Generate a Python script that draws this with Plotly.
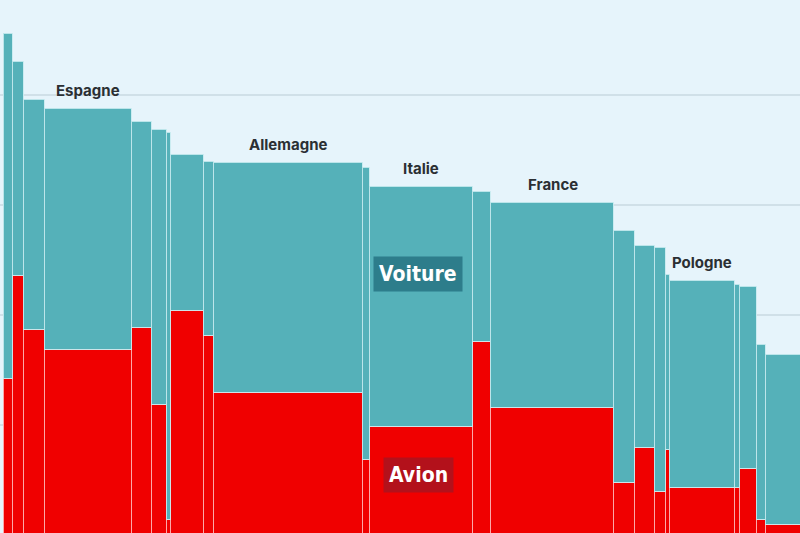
import plotly.graph_objects as go

# largeur de chaque colonne (population relative), hauteur totale et part avion
pays = ["", "", "", "Espagne", "", "", "", "", "", "Allemagne", "", "Italie",
        "", "France", "", "", "", "", "Pologne", "", "", "", ""]
largeur = [9, 10.5, 21, 87.5, 19.5, 15.5, 4, 32.5, 10, 149, 7, 103,
           18.5, 123, 21, 20, 11, 3.5, 65, 5, 17, 9.5, 40]
total = [4.55, 4.30, 3.95, 3.87, 3.75, 3.68, 3.65, 3.45, 3.39, 3.38, 3.34, 3.16,
         3.12, 3.02, 2.76, 2.63, 2.61, 2.36, 2.31, 2.27, 2.25, 1.73, 1.64]
avion = [1.42, 2.35, 1.86, 1.68, 1.88, 1.18, 0.14, 2.04, 1.81, 1.29, 0.68, 0.98,
         1.75, 1.15, 0.47, 0.79, 0.39, 0.77, 0.43, 0.43, 0.60, 0.14, 0.09]
voiture = [t - a for t, a in zip(total, avion)]

# centres des colonnes a partir des largeurs cumulees
centres = []
pos = 4
for w in largeur:
    centres.append(pos + w / 2)
    pos += w

fig = go.Figure()
fig.add_trace(go.Bar(x=centres, y=avion, width=largeur, name="Avion",
                     marker=dict(color="#f00000", line=dict(color="rgba(255,210,210,0.8)", width=1.2))))
fig.add_trace(go.Bar(x=centres, y=voiture, width=largeur, name="Voiture",
                     marker=dict(color="#55b1b9", line=dict(color="rgba(200,235,240,0.9)", width=1.2))))

# noms des pays au-dessus des colonnes
for xc, t, nom in zip(centres, total, pays):
    if nom:
        fig.add_annotation(x=xc, y=t, text="<b>" + nom + "</b>", showarrow=False,
                           yanchor="bottom", yshift=7,
                           font=dict(family="Inter, Liberation Sans", size=15, color="#2b2f33"))

boite = dict(family="DejaVu Sans Condensed, Liberation Sans Narrow, Roboto", size=21,
             color="white", weight="bold")
fig.add_annotation(x=418, y=2.37, text="Voiture", showarrow=False, bgcolor="#2d7d8b",
                   borderpad=5, font=boite)
fig.add_annotation(x=418, y=0.545, text="Avion", showarrow=False, bgcolor="#b3111b",
                   borderpad=5, font=boite)

fig.update_layout(
    width=800, height=533,
    margin=dict(l=0, r=0, t=0, b=0),
    barmode="stack",
    bargap=0,
    showlegend=False,
    paper_bgcolor="#e6f4fb",
    plot_bgcolor="#e6f4fb",
)
fig.update_xaxes(range=[0, 800], visible=False)
fig.update_yaxes(range=[0.018, 4.863], showticklabels=False, zeroline=False,
                 dtick=1, gridcolor="rgba(60,90,110,0.13)", gridwidth=2, layer="above traces")
fig.write_html("out.html", config={"displayModeBar": False},
               post_script="document.body.style.margin='0';")
